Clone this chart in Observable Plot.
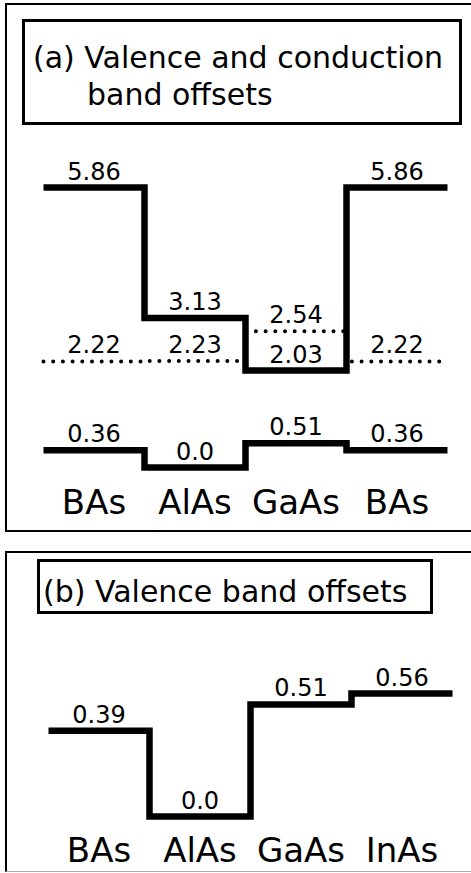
<!DOCTYPE html>
<html>
<head>
<meta charset="utf-8">
<script src="https://cdn.jsdelivr.net/npm/d3@7"></script>
<script src="https://cdn.jsdelivr.net/npm/@observablehq/plot@0.6"></script>
<style>
  html, body { margin: 0; padding: 0; background: #fff; overflow: hidden; }
  #root { position: relative; width: 471px; height: 873px; overflow: hidden; font-family: "DejaVu Sans", sans-serif; color: #000; }
  .abs { position: absolute; box-sizing: border-box; }
  .panel { border: 2px solid #000; }
  .tbox { border: 3px solid #000; }
  .ttl { position: absolute; font-size: 30px; line-height: 37px; white-space: nowrap; }
  svg { position: absolute; left: 0; }
</style>
</head>
<body>
<div id="root">
  <div class="abs panel" style="left:5px;top:3px;width:520px;height:529px;"></div>
  <div class="abs tbox" style="left:22px;top:19px;width:440px;height:106px;"></div>
  <div class="ttl" style="left:33px;top:39px;">(a) Valence and conduction</div>
  <div class="ttl" style="left:87px;top:76px;">band offsets</div>

  <div class="abs panel" style="left:5px;top:551px;width:520px;height:321px;border-bottom:1px solid #aaa;"></div>
  <div class="abs tbox" style="left:37px;top:559px;width:396px;height:55px;"></div>
  <div class="ttl" style="left:43px;top:573px;">(b) Valence band offsets</div>
</div>
<script>
// ---- Data: panel (a) BAs / AlAs / GaAs / BAs ----
const layersA = ["BAs", "AlAs", "GaAs", "BAs"];
const conductionA = [5.86, 3.13, 2.03, 5.86];      // solid upper line (eV)
const xValleyA = [2.22, 2.23, 2.54, 2.22];         // printed values of dotted line
const xValleyDrawnA = [2.22, 2.23, 2.85, 2.22];    // heights of dotted line as drawn in the schematic
const valenceA = [0.36, 0.0, 0.51, 0.36];          // solid lower line (eV)

// ---- Data: panel (b) BAs / AlAs / GaAs / InAs ----
const layersB = ["BAs", "AlAs", "GaAs", "InAs"];
const valenceB = [0.39, 0.0, 0.51, 0.56];

const fmt = v => v === 0 ? "0.0" : v.toFixed(2);

function steps(levels) {
  const pts = [];
  levels.forEach((v, i) => { pts.push({x: i, y: v}, {x: i + 1, y: v}); });
  return pts;
}
function labels(levels, printed) {
  return levels.map((v, i) => ({x: i + 0.5, y: v, text: fmt(printed ? printed[i] : v)}));
}
function names(layers) {
  return layers.map((n, i) => ({x: i + 0.5, name: n}));
}

const solid = {x: "x", y: "y", stroke: "black", strokeWidth: 6.5, strokeLinejoin: "miter", strokeLinecap: "butt", strokeMiterlimit: 4};
const dotted = {x: "x", y: "y", stroke: "black", strokeWidth: 4, strokeLinecap: "round", strokeDasharray: "0 9.7", strokeLinejoin: "round"};
const valText = {x: "x", y: "y", text: "text", fontSize: 24, lineAnchor: "bottom", dy: -8, fill: "black"};

const plotA = Plot.plot({
  width: 471, height: 531,
  marginTop: 187, marginBottom: 64, marginLeft: 43, marginRight: 24,
  x: {domain: [0, 4], axis: null},
  y: {domain: [0, 5.86], axis: null},
  style: {fontFamily: "DejaVu Sans", background: "transparent", overflow: "visible", color: "black"},
  marks: [
    Plot.line(steps(xValleyDrawnA), dotted),
    Plot.line(steps(conductionA), solid),
    Plot.line(steps(valenceA), solid),
    Plot.text(labels(conductionA), valText),
    Plot.text(labels(xValleyDrawnA, xValleyA), valText),
    Plot.text(labels(valenceA), valText),
    Plot.text(names(layersA), {x: "x", text: "name", frameAnchor: "bottom", lineAnchor: "bottom", dy: 46, fontSize: 34, fill: "black"})
  ]
});
plotA.style.top = "0px";

const plotB = Plot.plot({
  width: 471, height: 333,
  marginTop: 153, marginBottom: 57, marginLeft: 48, marginRight: 19,
  x: {domain: [0, 4], axis: null},
  y: {domain: [0, 0.56], axis: null},
  style: {fontFamily: "DejaVu Sans", background: "transparent", overflow: "visible", color: "black"},
  marks: [
    Plot.line(steps(valenceB), solid),
    Plot.text(labels(valenceB), valText),
    Plot.text(names(layersB), {x: "x", text: "name", frameAnchor: "bottom", lineAnchor: "bottom", dy: 45, fontSize: 34, fill: "black"})
  ]
});
plotB.style.top = "540px";

const root = document.getElementById("root");
root.appendChild(plotA);
root.appendChild(plotB);
</script>
</body>
</html>
